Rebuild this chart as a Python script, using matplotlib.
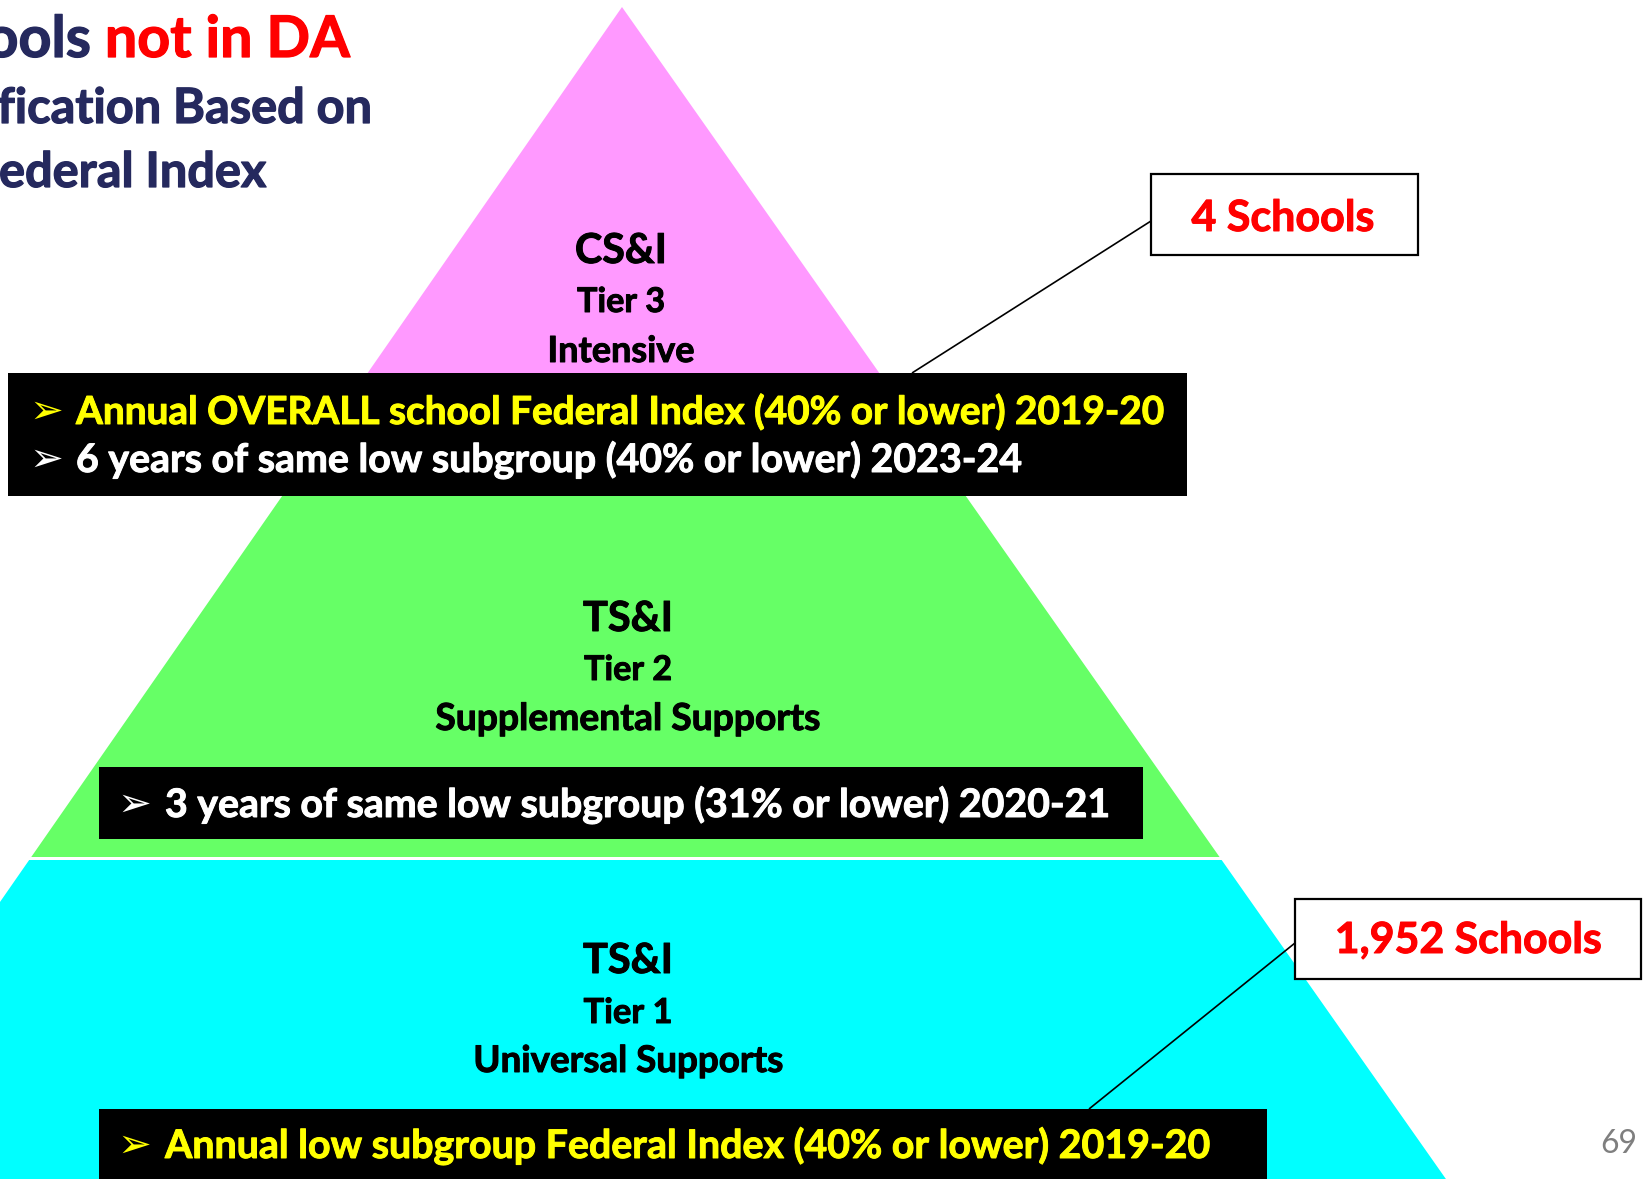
import matplotlib
matplotlib.use("Agg")
import matplotlib.pyplot as plt
from matplotlib.patches import Polygon, Rectangle
import matplotlib.patheffects as pe

# ---------------- data ----------------
title_lines = ["Identification Based on", "Federal Index"]
title_first = ("Schools", "not in DA")
tier_titles = ["CS&I", "TS&I", "TS&I"]
tier_levels = ["Tier 3", "Tier 2", "Tier 1"]
tier_supports = ["Intensive", "Supplemental Supports", "Universal Supports"]
tier_colors = ["#FF99FF", "#66FF66", "#00FFFF"]
criteria_text = [
    ["Annual OVERALL school Federal Index (40% or lower) 2019-20",
     "6 years of same low subgroup (40% or lower) 2023-24"],
    ["3 years of same low subgroup (31% or lower) 2020-21"],
    ["Annual low subgroup Federal Index (40% or lower) 2019-20"],
]
criteria_colors = [["#FFFF00", "#FFFFFF"], ["#FFFFFF"], ["#FFFF00"]]
school_counts = ["4 Schools", "1,952 Schools"]
page_number = "69"

# ---------------- layout ----------------
W, H = 1647, 1179
fig = plt.figure(figsize=(W / 100, H / 100), dpi=100)
ax = fig.add_axes([0, 0, 1, 1])
ax.set_xlim(0, W)
ax.set_ylim(H, 0)
ax.axis("off")
renderer = fig.canvas.get_renderer()

NAVY = "#25295E"
RED = "#FF0000"
FONT = "Lato"


def text_width(s, size, family=FONT, weight="bold"):
    t = fig.text(0, 0, s, fontsize=size, family=family, weight=weight)
    w = t.get_window_extent(renderer).width
    t.remove()
    return w


def fit(s, target, family=FONT, weight="bold"):
    return 100 * target / text_width(s, 100, family, weight)


def heavy(color, lw=0.7):
    return [pe.withStroke(linewidth=lw, foreground=color)]


# pyramid geometry
apex_x, apex_y, slope_l, slope_r = 622, 7, 0.695, 0.703
tier_spans = [(apex_y, 434), (434, 857), (860, H + 20)]


def xl(y):
    return apex_x - slope_l * (y - apex_y)


def xr(y):
    return apex_x + slope_r * (y - apex_y)


for (y0, y1), c in zip(tier_spans, tier_colors):
    poly = Polygon([(xl(y0), y0), (xr(y0), y0), (xr(y1), y1), (xl(y1), y1)],
                   closed=True, facecolor=c, edgecolor="none", zorder=1)
    ax.add_patch(poly)

# tier labels
label_x = [621, 628, 628]
label_base = [(263, 312, 362), (631, 680, 730), (973, 1023, 1072)]
title_w = [92, 90, 90]
level_w = [88, 88, 89]
supp_w = [147, 385, 310]
for i in range(3):
    b = label_base[i]
    for s, y, tw in zip((tier_titles[i], tier_levels[i], tier_supports[i]), b,
                        (title_w[i], level_w[i], supp_w[i])):
        ax.text(label_x[i], y, s, ha="center", va="baseline",
                fontsize=fit(s, tw), family=FONT, weight="bold",
                color="black", zorder=3, path_effects=heavy("black"))

# black criteria boxes
boxes = [(8, 373, 1187, 496), (99, 767, 1143, 839), (99, 1109, 1267, H + 20)]
arrow_x = [29, 117, 117]
text_x = [76, 165, 165]
base_y = [[424, 472], [817], [1158]]
target_w = [[1088, 946], [945], [1045]]
arrow_size = 1.3 * fit("\u27a2", 26, family="DejaVu Sans", weight="normal")
for i, (x0, y0, x1, y1) in enumerate(boxes):
    ax.add_patch(Rectangle((x0, y0), x1 - x0, y1 - y0, facecolor="black",
                           edgecolor="none", zorder=2))
    for s, c, by, tw in zip(criteria_text[i], criteria_colors[i], base_y[i], target_w[i]):
        ax.text(arrow_x[i], by - 1, "\u27a2", ha="left", va="baseline",
                fontsize=arrow_size, family="DejaVu Sans", color=c, zorder=3)
        ax.text(text_x[i], by, s, ha="left", va="baseline",
                fontsize=fit(s, tw), family=FONT, weight="bold", color=c,
                zorder=3, path_effects=heavy(c))

# callout boxes and connectors
callouts = [(1151, 174, 1418, 255), (1295, 899, 1641, 979)]
callout_text = [(1283, 231, 183), (1468, 953, 267)]
connectors = [((1151, 221), (912, 373)), ((1295, 943), (1089, 1109))]
for (x0, y0, x1, y1), (tx, ty, tw), s, (p, q) in zip(callouts, callout_text,
                                                     school_counts, connectors):
    ax.add_patch(Rectangle((x0, y0), x1 - x0, y1 - y0, facecolor="white",
                           edgecolor="black", linewidth=1.6, zorder=4))
    ax.text(tx, ty, s, ha="center", va="baseline", fontsize=fit(s, tw),
            family=FONT, weight="bold", color=RED, zorder=5,
            path_effects=heavy(RED))
    ax.plot([p[0], q[0]], [p[1], q[1]], color="black", linewidth=1.2,
            solid_capstyle="butt", zorder=4)

# title (cut off at the left edge)
s1 = fit(title_first[1], 245)
right1 = 350
w_full = text_width(title_first[0] + " " + title_first[1], s1)
ax.text(right1, 57, title_first[1], ha="right", va="baseline", fontsize=s1,
        family=FONT, weight="bold", color=RED, zorder=5,
        path_effects=heavy(RED, 0.9))
ax.text(right1 - w_full, 57, title_first[0], ha="left", va="baseline",
        fontsize=s1, family=FONT, weight="bold", color=NAVY, zorder=5,
        path_effects=heavy(NAVY, 0.9))
s2 = fit("Based on", 199)
ax.text(372, 123, title_lines[0], ha="right", va="baseline", fontsize=s2,
        family=FONT, weight="bold", color=NAVY, zorder=5,
        path_effects=heavy(NAVY, 0.9))
ax.text(266, 187, title_lines[1], ha="right", va="baseline", fontsize=s2,
        family=FONT, weight="bold", color=NAVY, zorder=5,
        path_effects=heavy(NAVY, 0.9))

# page number
ax.text(1637, 1153, page_number, ha="right", va="baseline",
        fontsize=fit(page_number, 37, weight="normal"), family=FONT,
        weight="normal", color="#7F7F7F", zorder=5)

fig.savefig("out.png", dpi=100)
